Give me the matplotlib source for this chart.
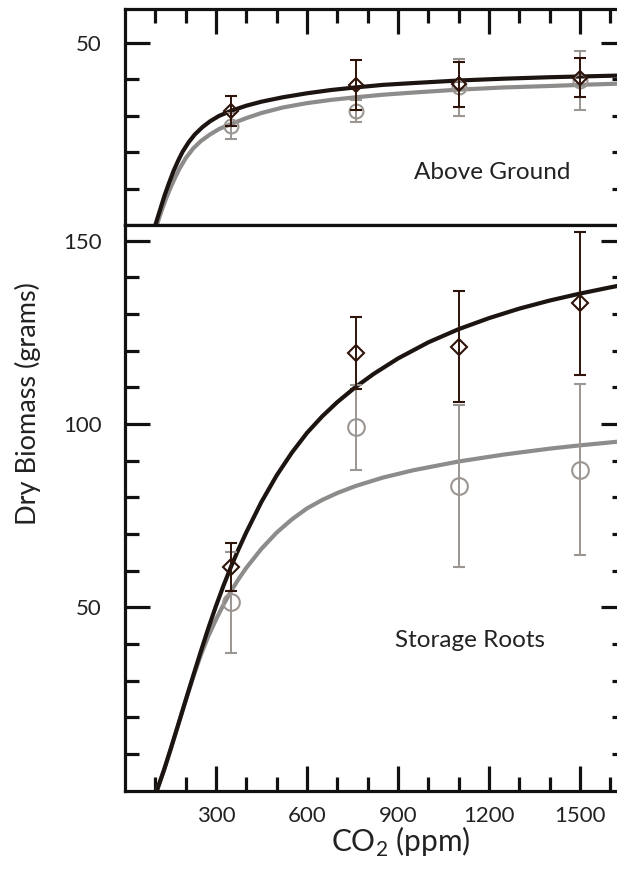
import matplotlib
matplotlib.use("Agg")
import matplotlib.pyplot as plt

plt.rcParams['font.family'] = ['Lato', 'DejaVu Sans']
plt.rcParams['mathtext.fontset'] = 'custom'
plt.rcParams['mathtext.rm'] = 'Lato'

# measured points (CO2 in ppm, dry biomass in grams)
co2 = [350, 760, 1100, 1500]

ag_dark = [31.2, 38.4, 38.6, 40.4]
ag_dark_err = [4.1, 6.9, 6.2, 5.4]
ag_grey = [27.1, 31.2, 37.7, 39.6]
ag_grey_err = [3.5, 3.0, 7.9, 8.0]

sr_dark = [61.0, 119.4, 121.1, 132.9]
sr_dark_err = [6.5, 9.8, 15.2, 19.4]
sr_grey = [51.4, 99.1, 83.1, 87.6]
sr_grey_err = [13.8, 11.5, 22.0, 23.3]

# fitted curves
ag_fit_x = [100, 115, 130, 145, 160, 175, 190, 210, 230, 255, 280, 310, 350, 400, 450,
            520, 600, 680, 760, 850, 950, 1100, 1250, 1400, 1500, 1650]
ag_fit_dark = [0, 4.0, 8.0, 11.5, 14.8, 17.6, 20.1, 22.7, 24.8, 26.8, 28.4, 29.9, 31.3, 32.7, 33.8,
               35.0, 36.1, 37.0, 37.7, 38.4, 38.9, 39.6, 40.1, 40.5, 40.7, 41.0]
ag_fit_xg = [105, 120, 135, 150, 165, 180, 200, 225, 250, 280, 310, 350, 400, 450,
             520, 600, 680, 760, 850, 950, 1100, 1250, 1400, 1500, 1650]
ag_fit_grey = [0, 3.8, 7.2, 10.2, 13.0, 15.5, 18.3, 21.0, 23.0, 24.8, 26.3, 27.7, 29.3, 30.7,
               32.2, 33.4, 34.3, 35.0, 35.7, 36.3, 37.1, 37.7, 38.1, 38.4, 38.8]

sr_fit_x = [105, 130, 150, 175, 200, 225, 250, 275, 300, 325, 350, 375, 400, 450, 500, 550, 600,
            650, 700, 760, 820, 900, 1000, 1100, 1200, 1300, 1400, 1500, 1600, 1650]
sr_fit_dark = [0, 6.0, 11.2, 17.9, 24.7, 31.4, 38.0, 44.4, 50.4, 56.0, 61.2, 66.0, 70.5, 78.8,
               86.0, 92.2, 97.6, 102.1, 106.0, 110.1, 113.7, 117.9, 122.3, 125.9, 128.9, 131.5,
               133.7, 135.6, 137.3, 138.1]
sr_fit_xg = [105, 130, 150, 175, 200, 225, 250, 275, 300, 325, 350, 375, 400, 450, 500, 550, 600,
             650, 700, 760, 850, 950, 1100, 1250, 1400, 1500, 1600, 1650]
sr_fit_grey = [0, 6.0, 11.2, 17.9, 24.5, 31.0, 37.0, 42.2, 46.7, 50.8, 54.5, 57.8, 60.8, 66.0,
               70.4, 74.0, 77.0, 79.3, 81.2, 83.1, 85.4, 87.4, 89.8, 91.7, 93.3, 94.2, 95.0, 95.4]

dark = '#1c1410'
dark_bar = '#2e140a'
grey = '#8e8c8a'
grey_bar = '#9c9692'

fig = plt.figure(figsize=(6.17, 8.8), dpi=100)
ax1 = fig.add_axes([0.2026, 0.7443, 0.8112, 0.2455])
ax2 = fig.add_axes([0.2026, 0.1015, 0.8112, 0.6428])


def draw(ax, fx, fd, fxg, fg, yd, ed, yg, eg, ms_o, ms_d):
    ax.plot(fxg, fg, color=grey, lw=3.0, zorder=2, solid_joinstyle='round')
    ax.plot(fx, fd, color=dark, lw=3.0, zorder=3, solid_joinstyle='round')
    ax.errorbar(co2, yg, yerr=eg, fmt='o', ms=ms_o, mfc='none', mec=grey_bar,
                mew=1.5, ecolor=grey_bar, elinewidth=1.4, capsize=4.3,
                capthick=1.4, zorder=4)
    ax.errorbar(co2, yd, yerr=ed, fmt='D', ms=ms_d, mfc='none', mec=dark_bar,
                mew=1.5, ecolor=dark_bar, elinewidth=1.4, capsize=4.3,
                capthick=1.4, zorder=5)
    ax.set_xlim(0, 1650)
    for s in ax.spines.values():
        s.set_linewidth(2.3)
        s.set_color('#111111')


draw(ax1, ag_fit_x, ag_fit_dark, ag_fit_xg, ag_fit_grey,
     ag_dark, ag_dark_err, ag_grey, ag_grey_err, 10, 7.5)
draw(ax2, sr_fit_x, sr_fit_dark, sr_fit_xg, sr_fit_grey,
     sr_dark, sr_dark_err, sr_grey, sr_grey_err, 12, 8.5)

ax1.set_ylim(0, 59.2)
ax2.set_ylim(0, 154.3)

ax1.set_yticks([50])
ax1.set_yticks([10, 20, 30, 40], minor=True)
ax2.set_yticks([50, 100, 150])
ax2.set_yticks([10, 20, 30, 40, 60, 70, 80, 90, 110, 120, 130, 140], minor=True)

for ax in (ax1, ax2):
    ax.set_xticks([300, 600, 900, 1200, 1500])
    ax.set_xticks([100, 200, 400, 500, 700, 800, 1000, 1100, 1300, 1400, 1600], minor=True)
    ax.tick_params(which='major', direction='in', length=18, width=2.3,
                   labelsize=16, pad=15, colors='#111111', labelcolor='#222222')
    ax.tick_params(which='minor', direction='in', length=10, width=2.3,
                   colors='#111111')
    ax.tick_params(axis='y', which='both', left=True, right=True)

ax1.tick_params(axis='x', which='both', top=True, bottom=False, labelbottom=False)
ax1.tick_params(axis='y', pad=17)
ax2.tick_params(axis='x', which='both', top=False, bottom=True, pad=11)
ax2.tick_params(axis='y', pad=17)

ax1.text(1210, 14.3, 'Above Ground', fontsize=17.5, ha='center', va='center', color='#222222')
ax2.text(1137, 41.1, 'Storage Roots', fontsize=17.5, ha='center', va='center', color='#222222')

fig.text(28 / 617, 1 - 404 / 880, 'Dry Biomass (grams)', rotation=90,
         fontsize=19.5, ha='center', va='center', color='#222222')
fig.text(401 / 617, 1 - 842 / 880, r'CO$_\mathrm{2}$ (ppm)', fontsize=21.5,
         ha='center', va='center', color='#222222')

fig.savefig('out.png', dpi=100)
